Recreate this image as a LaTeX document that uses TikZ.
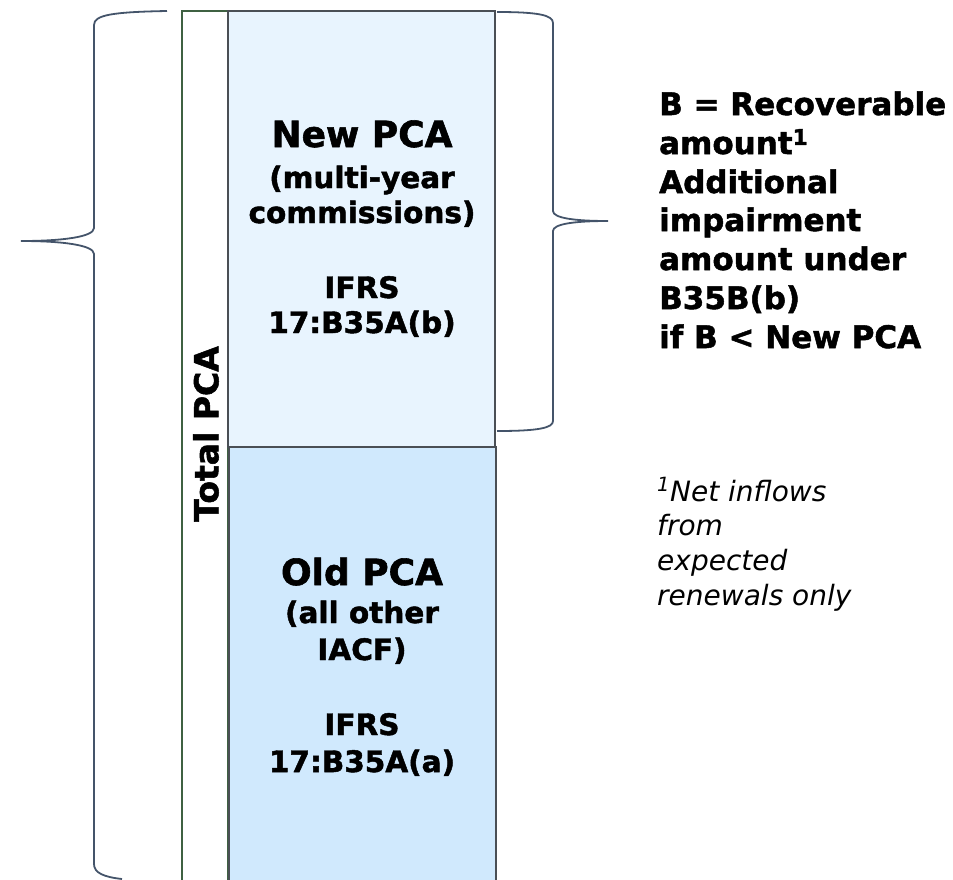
\documentclass[tikz,border=0pt]{standalone}
\usepackage{graphicx}
\usepackage{fontspec}
\setmainfont{DejaVu Sans}[BoldFeatures={FakeBold=1.6}]
\usepackage{tikz}
\usetikzlibrary{positioning}

\definecolor{newfill}{HTML}{E8F4FE}
\definecolor{oldfill}{HTML}{D0E9FD}
\definecolor{bargreen}{HTML}{3F6142}
\definecolor{boxline}{HTML}{4A4F55}
\definecolor{bracecol}{HTML}{44546A}

\tikzset{
  boxtitle/.style={anchor=base,inner sep=0pt,font=\bfseries\fontsize{36}{42}\selectfont},
  boxtext/.style={anchor=base,inner sep=0pt,font=\bfseries\fontsize{29.5}{35}\selectfont},
  sidetext/.style={anchor=base west,inner sep=0pt,font=\bfseries\fontsize{31}{38}\selectfont},
  notetext/.style={anchor=base west,inner sep=0pt,font=\itshape\fontsize{28}{35}\selectfont},
  brace/.style={draw=bracecol,line width=1.8pt}
}

\begin{document}
\begin{tikzpicture}[x=1pt,y=-1pt]
\useasboundingbox (0,0) rectangle (953,879);
% total bar
\draw[bargreen,line width=1.4pt,fill=white] (182,885) -- (182,11) -- (228,11) -- (228,885);
\node[rotate=90,inner sep=0pt,font=\bfseries\fontsize{33}{40}\selectfont] (total) at (206,434) {Total PCA};
% new PCA box
\draw[boxline,line width=1.4pt,fill=newfill] (228,11) rectangle (495,447);
\node[boxtitle] (newpca) at (362,147) {New PCA};
\node[boxtext] (newa) at (362,188) {(multi-year};
\node[boxtext] (newb) at (362,223) {commissions)};
\node[boxtext] (newc) at (362,298) {IFRS};
\node[boxtext] (newd) at (362,333) {17:B35A(b)};
% old PCA box
\draw[boxline,line width=1.4pt,fill=oldfill] (229,885) -- (229,447) -- (496,447) -- (496,885);
\node[boxtitle] (oldpca) at (362,585) {Old PCA};
\node[boxtext] (olda) at (362,623) {(all other};
\node[boxtext] (oldb) at (362,660) {IACF)};
\node[boxtext] (oldc) at (362,735) {IFRS};
\node[boxtext] (oldd) at (362,772) {17:B35A(a)};
% braces
\draw[brace] (167,11) .. controls (112,12) and (94,15) .. (94,25) -- (94,228)
  .. controls (94,237) and (62,241) .. (21,241)
  .. controls (62,241) and (94,245) .. (94,254) -- (94,864)
  .. controls (94,873) and (104,877) .. (122,879);
\draw[brace] (497,12) .. controls (538,12) and (553,15) .. (553,23) -- (553,211)
  .. controls (553,218) and (574,221) .. (608,221)
  .. controls (574,221) and (553,224) .. (553,231) -- (553,421)
  .. controls (553,428) and (538,431) .. (497,431);
% right hand text
\node[sidetext] (side1) at (659,115) {B = Recoverable};
\node[sidetext] (side2) at (659,154) {amount\textsuperscript{1}};
\node[sidetext] (side3) at (659,193) {Additional};
\node[sidetext] (side4) at (659,231) {impairment};
\node[sidetext] (side5) at (659,270) {amount under};
\node[sidetext] (side6) at (659,309) {B35B(b)};
\node[sidetext] (side7) at (659,348) {if B < New PCA};
% footnote
\node[notetext] (note1) at (657,501) {\textsuperscript{1}Net inflows};
\node[notetext] (note2) at (657,535) {from};
\node[notetext] (note3) at (657,570) {expected};
\node[notetext] (note4) at (657,605) {renewals only};
\end{tikzpicture}
\end{document}
